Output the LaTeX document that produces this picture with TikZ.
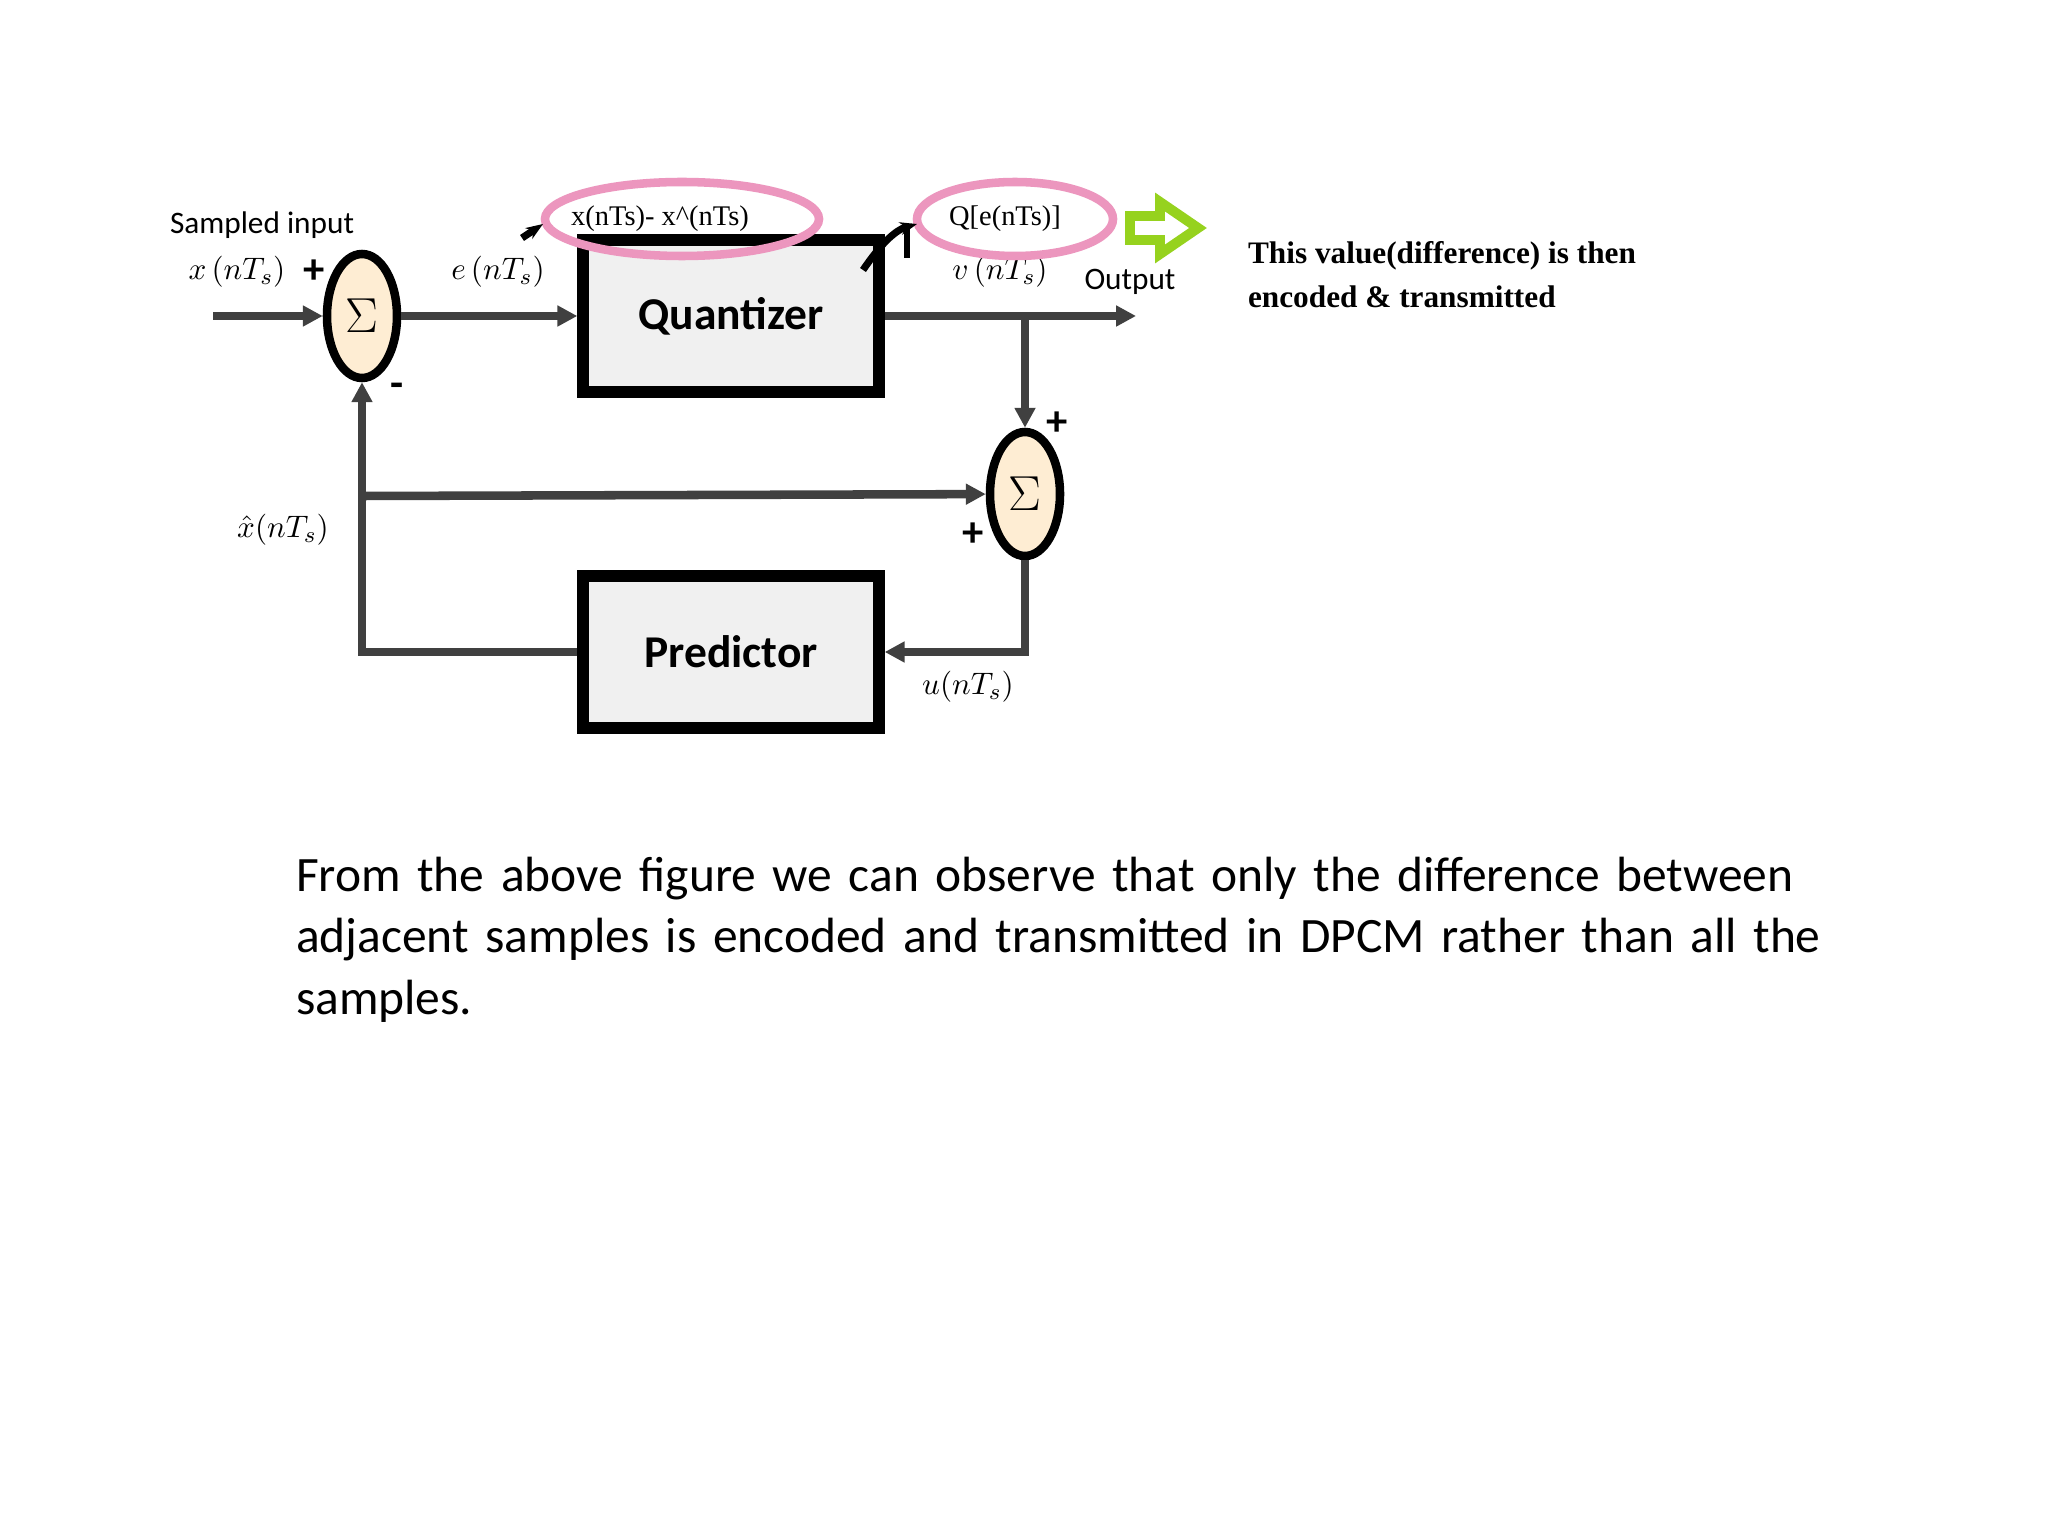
\documentclass[tikz,border=0pt]{standalone}
\usepackage{fontspec}
\setmainfont{Carlito}
\newfontfamily\serifx{Liberation Serif}
\usetikzlibrary{arrows.meta,shapes.geometric}
\definecolor{pinkc}{RGB}{236,150,190}
\definecolor{greenc}{RGB}{150,210,30}
\begin{document}
\begin{tikzpicture}[x=0.3515625pt,y=-0.3515625pt,
  blk/.style={draw=black,line width=4pt,fill=gray!12,minimum width=296pt*0.3515625,minimum height=152pt*0.3515625,inner sep=0pt,font=\fontsize{16}{18}\selectfont\bfseries},
  sum/.style={draw=black,line width=3pt,fill=yellow!15!orange!15,ellipse,minimum width=70*0.3515625pt,minimum height=124*0.3515625pt,inner sep=0pt,font=\fontsize{17}{18}\selectfont},
  wire/.style={line width=3pt,draw=black!75},
  arr/.style={wire,-{Triangle[length=7pt,width=7pt]}},
  pinkel/.style={draw=pinkc,line width=3pt,ellipse,inner sep=0pt},
  lab/.style={font=\fontsize{11}{13}\selectfont},
  pls/.style={font=\fontsize{15}{15}\selectfont\bfseries},
  ann/.style={font=\serifx\fontsize{10}{12}\selectfont}]
\useasboundingbox (0,0) rectangle (2048,1536);
\fill[white] (0,0) rectangle (2048,1536);
\node[blk] (q) at (731,316) {Quantizer};
\node[blk] (p) at (731,652) {Predictor};
\node[sum] (s1) at (362,316) {$\Sigma$};
\node[sum] (s2) at (1025,494) {$\Sigma$};
\coordinate (in) at (213,316);
\coordinate (out) at (1136,316);
\coordinate (br) at (1025,316);
\coordinate (fb) at (362,496);
\coordinate (pl) at (362,652);
\coordinate (ur) at (1025,652);
\draw[arr] (in) -- (s1);
\draw[arr] (s1) -- (q);
\draw[arr] (q) -- (out);
\draw[arr] (br) -- (s2);
\draw[arr] (s2) -- (ur) -- (p);
\draw[wire] (p) -- (pl) -- (fb);
\draw[arr] (fb) -- (s1);
\draw[arr] (fb) -- (s2);
\node[lab,anchor=west] (si) at (160,225) {Sampled input};
\node[lab] (xl) at (237,272) {$x\,(nT_s)$};
\node[pls] (pl1) at (314,272) {+};
\node[pls] (mn) at (397,390) {-};
\node[lab] (el) at (498,272) {$e\,(nT_s)$};
\node[lab] (vl) at (1000,272) {$v\,(nT_s)$};
\node[lab] (ol) at (1130,282) {Output};
\node[pls] (pp1) at (1057,424) {+};
\node[pls] (pp2) at (973,535) {+};
\node[lab] (xh) at (283,530) {$\hat{x}(nT_s)$};
\node[lab] (ul) at (968,687) {$u(nT_s)$};
\node[pinkel,minimum width=274*0.3515625pt,minimum height=74*0.3515625pt] (e1) at (682,219) {};
\node[ann] (t1) at (660,219) {x(nTs)- x\^{}(nTs)};
\node[pinkel,minimum width=196*0.3515625pt,minimum height=74*0.3515625pt] (e2) at (1015,219) {};
\node[ann] (t2) at (1005,219) {Q[e(nTs)]};
\draw[line width=2.5pt,-{Stealth[length=6pt]}] (522,238) -- (543,224);
\draw[line width=2.5pt,-{Stealth[length=6pt]}] (863,270) .. controls (880,245) and (895,230) .. (917,224);
\draw[line width=2pt] (907,226) -- (907,258);
\draw[draw=greenc,line width=3.5pt,line join=miter,fill=white] (1130,216) -- (1160,216) -- (1160,202) -- (1198,228) -- (1160,254) -- (1160,240) -- (1130,240) -- cycle;
\node[ann,anchor=west,align=left,font=\serifx\bfseries\fontsize{11}{15.5}\selectfont] (rt) at (1238,275) {This value(difference) is then\\encoded \& transmitted};
\node[anchor=north west,text width=1650*0.3515625pt,font=\fontsize{17.4}{21.6}\selectfont] (para) at (286,847) {\raggedright From the above figure we can observe that only the difference between adjacent samples is encoded and transmitted in DPCM rather than all the samples.\par};
\end{tikzpicture}
\end{document}
